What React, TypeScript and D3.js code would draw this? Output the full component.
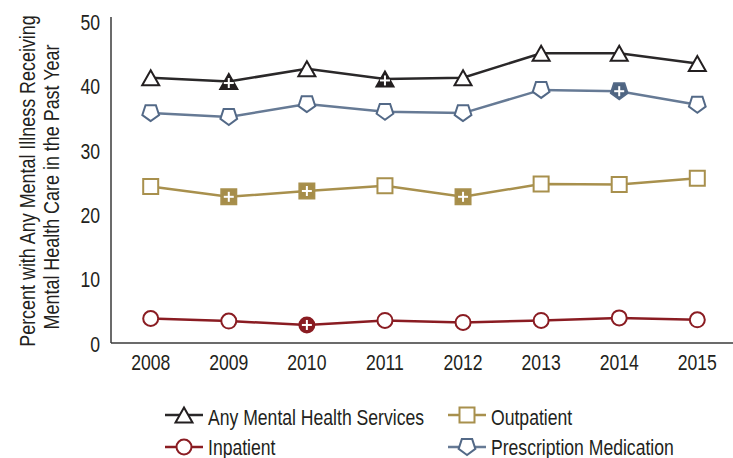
import React from "react";
import * as d3 from "d3";

const years = ["2008", "2009", "2010", "2011", "2012", "2013", "2014", "2015"];
const anyServices = [41.2, 40.6, 42.6, 41.0, 41.2, 45.0, 45.0, 43.4];
const prescription = [35.7, 35.1, 37.1, 35.9, 35.7, 39.3, 39.1, 37.0];
const outpatient = [24.3, 22.7, 23.6, 24.4, 22.7, 24.7, 24.6, 25.6];
const inpatient = [3.8, 3.4, 2.8, 3.5, 3.2, 3.5, 3.9, 3.6];
// years where the estimate differs significantly (marked with +)
const anySig = ["2009", "2011"];
const prescriptionSig = ["2014"];
const outpatientSig = ["2009", "2010", "2012"];
const inpatientSig = ["2010"];
const yTicks = [0, 10, 20, 30, 40, 50];

const FONT = "'Liberation Sans', Arial, sans-serif";

type Shape = "triangle" | "square" | "circle" | "pentagon";

function markerPath(shape: Shape): string {
  if (shape === "triangle") {
    return "M0,-7.5 L8.5,7.5 L-8.5,7.5 Z";
  }
  if (shape === "square") {
    return "M-7.5,-7.5 H7.5 V7.5 H-7.5 Z";
  }
  if (shape === "circle") {
    return d3.arc()({ innerRadius: 0, outerRadius: 7.5, startAngle: 0, endAngle: 2 * Math.PI } as any) || "";
  }
  const r = 8.8;
  const pts = d3.range(5).map((i) => {
    const a = Math.PI / 2 + (i * 2 * Math.PI) / 5;
    return [r * Math.cos(a), r * Math.sin(a) - 0.8];
  });
  return "M" + pts.map((p) => p.join(",")).join("L") + "Z";
}

const series = [
  { name: "Any Mental Health Services", values: anyServices, sig: anySig, shape: "triangle" as Shape, line: "#2a2829", stroke: "#231f20", fill: "#231f20" },
  { name: "Prescription Medication", values: prescription, sig: prescriptionSig, shape: "pentagon" as Shape, line: "#667a95", stroke: "#536987", fill: "#4e6480" },
  { name: "Outpatient", values: outpatient, sig: outpatientSig, shape: "square" as Shape, line: "#a8904d", stroke: "#a8904d", fill: "#a68d49" },
  { name: "Inpatient", values: inpatient, sig: inpatientSig, shape: "circle" as Shape, line: "#8a1c22", stroke: "#8a1c22", fill: "#8a1c22" },
];

const legendItems = [
  { s: series[0], x: 165, y: 415, ty: 417 },
  { s: series[2], x: 448, y: 415, ty: 417 },
  { s: series[3], x: 165, y: 447, ty: 447 },
  { s: series[1], x: 448, y: 447, ty: 447 },
];

function NText(props: { x: number; y: number; anchor?: string; size?: number; sx?: number; rotate?: number; children: React.ReactNode }) {
  const { x, y, anchor = "start", size = 22, sx = 0.8, rotate = 0, children } = props;
  return (
    <g transform={`translate(${x},${y}) rotate(${rotate}) scale(${sx},1)`}>
      <text x={0} y={0} textAnchor={anchor} dominantBaseline="central" fontSize={size} fill="#231f20">
        {children}
      </text>
    </g>
  );
}

export default function App() {
  const W = 733;
  const H = 458;
  const x = d3.scalePoint<string>().domain(years).range([150.7, 697.3]);
  const y = d3.scaleLinear().domain([0, 50]).range([343, 21]);
  const left = 111;

  return (
    <svg width={W} height={H} style={{ position: "absolute", left: 0, top: 0, background: "#fff" }} fontFamily={FONT}>
      <line x1={left} x2={left} y1={17} y2={y(0)} stroke="#3a3a3a" strokeWidth={1.5} />
      <line x1={left} x2={733} y1={y(0)} y2={y(0)} stroke="#3a3a3a" strokeWidth={1.5} />
      {yTicks.map((t) => (
        <NText key={t} x={100} y={y(t) + 1} anchor="end">
          {t}
        </NText>
      ))}
      {years.map((yr) => (
        <NText key={yr} x={x(yr) as number} y={362} anchor="middle">
          {yr}
        </NText>
      ))}
      <NText x={27} y={181} anchor="middle" rotate={-90} sx={0.815}>
        Percent with Any Mental Illness Receiving
      </NText>
      <NText x={51} y={187} anchor="middle" rotate={-90} sx={0.815}>
        Mental Health Care in the Past Year
      </NText>

      {series.map((s) => {
        const lineGen = d3
          .line<number>()
          .x((_, i) => x(years[i]) as number)
          .y((v) => y(v));
        return (
          <g key={s.name}>
            <path d={lineGen(s.values) || ""} fill="none" stroke={s.line} strokeWidth={2.5} />
            {s.values.map((v, i) => {
              const yr = years[i];
              const filled = s.sig.includes(yr);
              const cy = s.shape === "triangle" ? 1.5 : 0;
              return (
                <g key={yr} transform={`translate(${x(yr)},${y(v)})`}>
                  <path d={markerPath(s.shape)} fill={filled ? s.fill : "#fff"} stroke={s.stroke} strokeWidth={2} />
                  {filled && (
                    <g stroke="#fff" strokeWidth={2}>
                      <line x1={-5} x2={5} y1={cy} y2={cy} />
                      <line x1={0} x2={0} y1={cy - 5} y2={cy + 5} />
                    </g>
                  )}
                </g>
              );
            })}
          </g>
        );
      })}

      {legendItems.map(({ s, x: lx, y: ly, ty }) => (
        <g key={s.name}>
          <line x1={lx} x2={lx + 38} y1={ly} y2={ly} stroke={s.line} strokeWidth={2.5} />
          <g transform={`translate(${lx + 19},${ly})`}>
            <path d={markerPath(s.shape)} fill="#fff" stroke={s.stroke} strokeWidth={2} />
          </g>
          <NText x={lx + 43} y={ty}>
            {s.name}
          </NText>
        </g>
      ))}
    </svg>
  );
}
